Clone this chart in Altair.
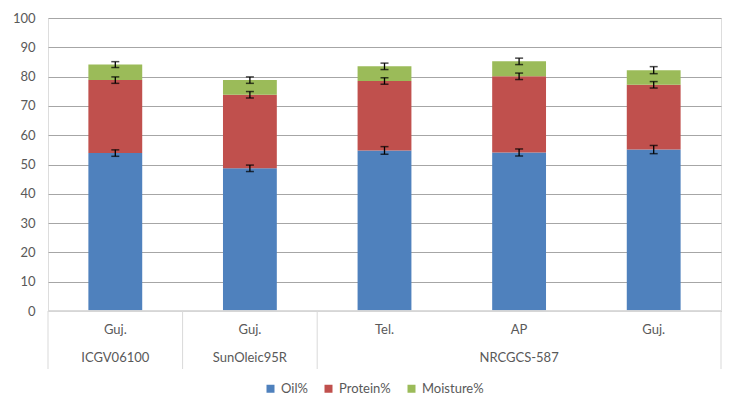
import altair as alt
import pandas as pd

cultivars = ["ICGV06100", "SunOleic95R", "NRCGCS-587", "NRCGCS-587", "NRCGCS-587"]
locations = ["Guj.", "Guj.", "Tel.", "AP", "Guj."]
components = ["Oil%", "Protein%", "Moisture%"]
oil = [53.9, 48.7, 54.8, 54.1, 55.1]
protein = [24.9, 25.1, 23.7, 26.0, 22.1]
moisture = [5.3, 5.0, 5.0, 5.1, 5.0]
oil_err = [1.1, 1.1, 1.3, 1.2, 1.4]
protein_err = [1.1, 1.1, 1.1, 1.1, 1.1]
moisture_err = [1.0, 1.1, 1.1, 1.1, 1.2]
colors = ["#4F81BD", "#C0504D", "#9BBB59"]
y_ticks = list(range(0, 101, 10))

FONT = "Lato"
TXT = "#595959"

rows = []
for i in range(len(cultivars)):
    base = 0.0
    for k, (vals, errs) in enumerate([(oil, oil_err), (protein, protein_err), (moisture, moisture_err)]):
        top = base + vals[i]
        rows.append({"idx": i, "cultivar": cultivars[i], "location": locations[i],
                     "component": components[k], "order": k, "y0": base, "y1": top,
                     "lo": top - errs[i], "hi": top + errs[i]})
        base = top
df = pd.DataFrame(rows)

cat = pd.DataFrame({"idx": range(len(cultivars)), "cultivar": cultivars, "location": locations})
grp = cat.groupby("cultivar", sort=False)["idx"].agg(["min", "max", "count"]).reset_index()
bounds = [0] + list(grp["count"].cumsum())
bdf = pd.DataFrame({"b": bounds})

W, H = 673, 293
xs = alt.Scale(domain=[0, len(cultivars)], nice=False, zero=False)
ys = alt.Scale(domain=[0, 100], nice=False)
yax = alt.Axis(values=y_ticks, grid=True, gridColor="#A6A6A6", labelOverlap=False,
               domain=False, ticks=False, labelPadding=13, labelFont=FONT,
               labelFontSize=13, labelColor=TXT, title=None)

base = alt.Chart(df)

bars = base.mark_bar().transform_calculate(
    xl="datum.idx + 0.3", xr="datum.idx + 0.7"
).encode(
    x=alt.X("xl:Q", scale=xs, axis=None),
    x2="xr:Q",
    y=alt.Y("y0:Q", scale=ys, axis=yax),
    y2="y1:Q",
    color=alt.Color("component:N", scale=alt.Scale(domain=components, range=colors),
                    legend=alt.Legend(title=None, orient="none", direction="horizontal",
                                      legendX=216, legendY=364, symbolType="square",
                                      symbolSize=64, labelFont=FONT, labelFontSize=13,
                                      labelColor=TXT, columnPadding=14, symbolStrokeWidth=0)),
)

err_base = base.transform_calculate(xc="datum.idx + 0.5")
err_rule = err_base.mark_rule(color="black", strokeWidth=1.3).encode(
    x=alt.X("xc:Q", scale=xs, axis=None), y=alt.Y("lo:Q", scale=ys, axis=yax), y2="hi:Q")
cap_lo = err_base.mark_tick(color="black", orient="horizontal", size=8, thickness=1.5).encode(
    x=alt.X("xc:Q", scale=xs, axis=None), y=alt.Y("lo:Q", scale=ys, axis=yax))
cap_hi = err_base.mark_tick(color="black", orient="horizontal", size=8, thickness=1.5).encode(
    x=alt.X("xc:Q", scale=xs, axis=None), y=alt.Y("hi:Q", scale=ys, axis=yax))

zero = alt.Chart(bdf).mark_rule(color="#D9D9D9", strokeWidth=1).encode(
    x=alt.value(0), x2=alt.value(W), y=alt.value(H))

seps = alt.Chart(bdf).mark_rule(color="#D9D9D9", strokeWidth=1).encode(
    x=alt.X("b:Q", scale=xs, axis=None), y=alt.value(H), y2=alt.value(351))

loc_txt = alt.Chart(cat).mark_text(font=FONT, fontSize=13, color=TXT, baseline="middle").transform_calculate(
    xc="datum.idx + 0.5").encode(x=alt.X("xc:Q", scale=xs, axis=None), y=alt.value(312), text="location:N")

grp_txt = alt.Chart(grp).mark_text(font=FONT, fontSize=13, color=TXT, baseline="middle").transform_calculate(
    xc="(datum.min + datum.max + 1) / 2").encode(x=alt.X("xc:Q", scale=xs, axis=None), y=alt.value(340), text="cultivar:N")

chart = alt.layer(bars, zero, seps, err_rule, cap_lo, cap_hi, loc_txt, grp_txt).properties(
    width=W, height=H,
    autosize=alt.AutoSizeParams(type="none"),
    padding={"left": 40, "top": 10, "right": 11, "bottom": 95},
).configure_view(stroke=None).configure(background="white")

chart.save("out.html", embed_options={"renderer": "svg", "actions": False})
